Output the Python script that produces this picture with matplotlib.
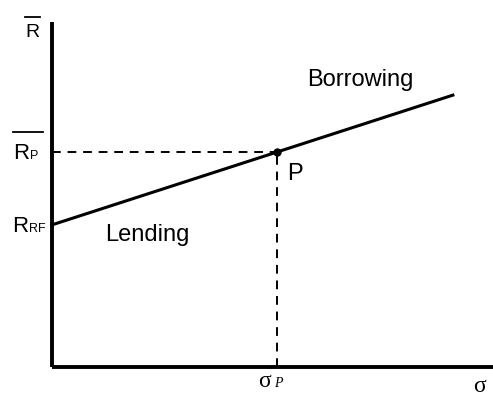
import matplotlib.pyplot as plt

plt.rcParams['font.family'] = ['Liberation Sans', 'DejaVu Sans']

# capital market line (arbitrary units)
r_rf = 0.412
sigma_p = 0.510
r_p = 0.623
line_x = [0.0, sigma_p, 0.909]
line_y = [r_rf, r_p, 0.788]

fig = plt.figure(figsize=(4.93, 3.96), dpi=100)
ax = fig.add_axes([52/493, 29/396, 441/493, 345/396])
ax.set_xlim(0, 1)
ax.set_ylim(0, 1)
ax.axis('off')

# axes
ax.plot([0, 0], [0, 1], color='black', lw=2.8, clip_on=False, solid_capstyle='butt')
ax.plot([0, 1], [0, 0], color='black', lw=2.8, clip_on=False, solid_capstyle='butt')

ax.plot(line_x, line_y, color='black', lw=2.2, clip_on=False)
ax.plot([0, sigma_p], [r_p, r_p], color='black', lw=1.4, ls=(0, (4.5, 3.5)))
ax.plot([sigma_p, sigma_p], [0, r_p], color='black', lw=1.4, ls=(0, (4.5, 3.5)))
ax.plot([sigma_p], [r_p], marker='o', ms=5, color='black')

ax.text(0.533, 0.559, 'P', fontsize=17, ha='left', va='center')
ax.text(0.698, 0.832, 'Borrowing', fontsize=17, ha='center', va='center')
ax.text(0.215, 0.383, 'Lending', fontsize=17, ha='center', va='center')

# R bar on the vertical axis
ax.text(-0.045, 0.971, 'R', fontsize=14, ha='center', va='center')
ax.plot([-0.061, -0.027], [1.014, 1.014], color='black', lw=1.3, clip_on=False)

# R_P bar
ax.text(-0.088, 0.603, 'R', fontsize=16, ha='left', va='baseline')
ax.text(-0.050, 0.603, 'P', fontsize=9, ha='left', va='baseline')
ax.plot([-0.088, -0.020], [0.681, 0.681], color='black', lw=1.3, clip_on=False)

# R_RF
ax.text(-0.091, 0.391, 'R', fontsize=16, ha='left', va='baseline')
ax.text(-0.052, 0.391, 'RF', fontsize=9, ha='left', va='baseline')

ax.text(0.467, -0.058, 'σ', fontsize=17, family='Liberation Serif', ha='left', va='baseline')
ax.text(0.503, -0.058, 'P', fontsize=10, style='italic', family='Liberation Serif',
        ha='left', va='baseline')
ax.text(0.955, -0.072, 'σ', fontsize=17, family='Liberation Serif', ha='left', va='baseline')

fig.savefig('out.png', dpi=100)
